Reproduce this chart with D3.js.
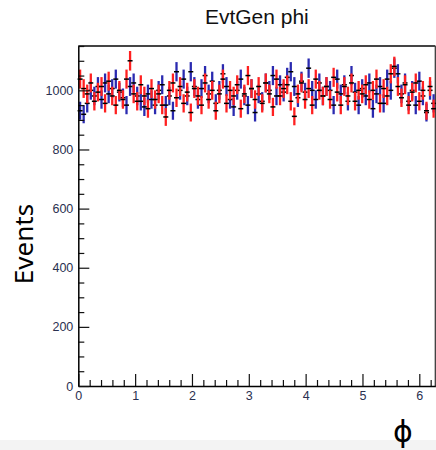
<!DOCTYPE html>
<html>
<head>
<meta charset="utf-8">
<script src="https://cdn.jsdelivr.net/npm/d3@7"></script>
<style>
html,body{margin:0;padding:0;background:#fff;}
svg{display:block;}
</style>
</head>
<body>
<div id="chart"></div>
<script>
// ---- data ----
const title = "EvtGen phi";
const yLabel = "Events";
const xLabel = "ϕ";
const nBins = 100;
const xMin = 0, xMax = 2 * Math.PI;
const yMax = 1150;
const xMajorTicks = [0, 1, 2, 3, 4, 5, 6];
const yMajorTicks = [0, 200, 400, 600, 800, 1000];
const blueValues = [
  931, 919, 956, 1000, 981, 1013, 969, 1025, 988, 1006,
  1038, 994, 975, 950, 1013, 1025, 981, 963, 944, 988,
  969, 950, 1000, 1019, 950, 981, 931, 1063, 1000, 1038,
  981, 1063, 1013, 969, 1006, 1050, 988, 1031, 956, 1000,
  1056, 1013, 969, 944, 1000, 1038, 981, 950, 1006, 925,
  988, 963, 1025, 1000, 1050, 981, 1019, 994, 1044, 1063,
  1013, 975, 1031, 994, 1075, 1000, 969, 1025, 981, 1013,
  1000, 950, 1038, 988, 1019, 963, 1050, 994, 950, 1006,
  981, 1025, 938, 988, 1013, 956, 1038, 1000, 1075, 1056,
  988, 1025, 963, 1000, 950, 1031, 981, 925, 1000, 956
];
const redValues = [
  1038, 1006, 988, 1025, 963, 994, 1013, 956, 1031, 981,
  950, 1000, 969, 1038, 1100, 988, 963, 1019, 981, 938,
  1006, 969, 988, 950, 910, 1000, 1025, 975, 1013, 956,
  994, 925, 1006, 981, 950, 1025, 969, 1000, 931, 988,
  1038, 956, 1000, 981, 1019, 938, 988, 1050, 1006, 969,
  1013, 956, 1025, 988, 944, 1038, 981, 1006, 1019, 963,
  912, 988, 1025, 969, 1006, 950, 1038, 1000, 981, 1013,
  969, 1044, 994, 950, 1013, 981, 1025, 963, 1000, 988,
  1019, 969, 1000, 1038, 956, 1006, 981, 1056, 1081, 1013,
  975, 1019, 950, 994, 1025, 963, 1000, 931, 1013, 938
];

// ---- layout ----
const W = 436, H = 450;
const svg = d3.select("#chart").append("svg").attr("width", W).attr("height", H);
const font = "'Liberation Sans', Arial, sans-serif";

svg.append("rect").attr("x", 0).attr("y", 440).attr("width", W).attr("height", 10).attr("fill", "#f3f3f3");

const x = d3.scaleLinear().domain([xMin, xMax]).range([78.3, 435.4]);
const y = d3.scaleLinear().domain([0, yMax]).range([386, 46]);
const binW = (xMax - xMin) / nBins;

// frame
const g = svg.append("g");
g.append("line").attr("x1", x(xMin)).attr("x2", x(xMax)).attr("y1", y(yMax)).attr("y2", y(yMax))
  .attr("stroke", "#444").attr("stroke-width", 2);
g.append("line").attr("x1", x(xMax)).attr("x2", x(xMax)).attr("y1", y(yMax)).attr("y2", y(0))
  .attr("stroke", "#444").attr("stroke-width", 1.5);

// series
function drawSeries(vals, color) {
  const s = svg.append("g");
  const data = vals.map((v, i) => ({c: xMin + (i + 0.5) * binW, v, e: Math.sqrt(v)}));
  s.selectAll("line.eb").data(data).enter().append("line").attr("class", "eb")
    .attr("x1", d => x(d.c)).attr("x2", d => x(d.c))
    .attr("y1", d => y(d.v - d.e)).attr("y2", d => y(d.v + d.e))
    .attr("stroke", color).attr("stroke-width", 2.3);
  s.selectAll("line.mk").data(data).enter().append("line").attr("class", "mk")
    .attr("x1", d => x(d.c) - 2.5).attr("x2", d => x(d.c) + 2.5)
    .attr("y1", d => y(d.v)).attr("y2", d => y(d.v))
    .attr("stroke", "#000").attr("stroke-width", 1.5);
}
drawSeries(blueValues, "#2a2ab0");
drawSeries(redValues, "#ff2020");

// axes
const xMinor = d3.range(0, 6.3, 0.2).filter(t => Math.abs(t - Math.round(t)) > 1e-6);
const yMinor = d3.range(0, yMax + 1, 50).filter(t => t % 200 !== 0);

const xAxisMinor = svg.append("g").attr("transform", `translate(0,${y(0)})`)
  .call(d3.axisBottom(x).tickValues(xMinor).tickSizeInner(-6).tickSizeOuter(0).tickFormat(""));
xAxisMinor.select(".domain").remove();
const xAxis = svg.append("g").attr("transform", `translate(0,${y(0)})`)
  .call(d3.axisBottom(x).tickValues(xMajorTicks).tickSizeInner(-12).tickSizeOuter(0).tickPadding(5).tickFormat(d3.format("d")));
xAxis.select(".domain").attr("stroke", "#000").attr("stroke-width", 1.5);

const yAxisMinor = svg.append("g").attr("transform", `translate(${x(0)},0)`)
  .call(d3.axisLeft(y).tickValues(yMinor).tickSizeInner(-6).tickSizeOuter(0).tickFormat(""));
yAxisMinor.select(".domain").remove();
const yAxis = svg.append("g").attr("transform", `translate(${x(0)},0)`)
  .call(d3.axisLeft(y).tickValues(yMajorTicks).tickSizeInner(-11).tickSizeOuter(0).tickPadding(5).tickFormat(d3.format("d")));
yAxis.select(".domain").attr("stroke", "#000").attr("stroke-width", 1.5);

svg.selectAll(".tick line").attr("stroke", "#111").attr("stroke-width", 1.2);
svg.selectAll(".tick text").attr("font-family", font).attr("font-size", 12.5).attr("fill", "#2a3050");

// titles
svg.append("text").attr("x", x((xMin + xMax) / 2)).attr("y", 24)
  .attr("text-anchor", "middle").attr("font-family", font).attr("font-size", 21).attr("fill", "#111")
  .text(title);
svg.append("text").attr("transform", "translate(33,244) rotate(-90)")
  .attr("text-anchor", "middle").attr("font-family", "'Noto Sans', sans-serif").attr("font-size", 26).attr("fill", "#000")
  .text(yLabel);
svg.append("text").attr("x", 403).attr("y", 442)
  .attr("text-anchor", "middle").attr("font-family", "'DejaVu Sans', sans-serif").attr("font-size", 30).attr("fill", "#000")
  .text(xLabel);
</script>
</body>
</html>
